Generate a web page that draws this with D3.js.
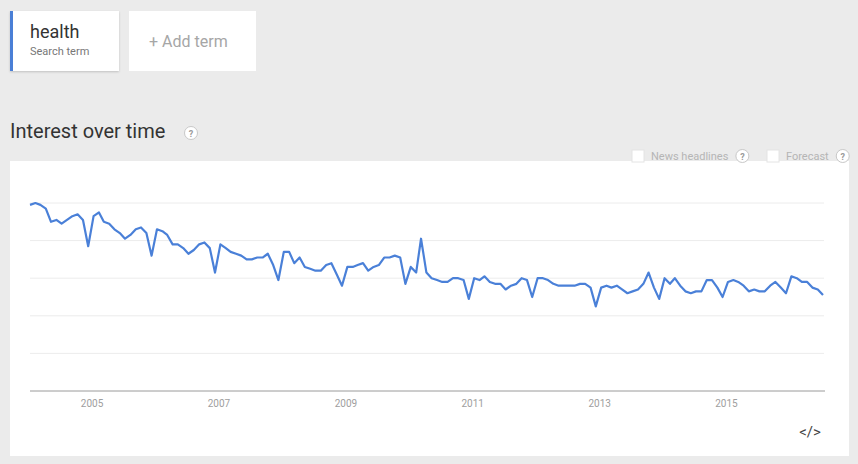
<!DOCTYPE html>
<html>
<head>
<meta charset="utf-8">
<script src="https://cdn.jsdelivr.net/npm/d3@7"></script>
<style>
  body { margin: 0; background: #ebebeb; font-family: Roboto, "Noto Sans", Arial, sans-serif; }
  svg { display: block; }
</style>
</head>
<body>
<div id="chart"></div>
<script>
// search interest for "health", monthly, Jan 2004 - Jul 2016
const values = [
    99, 100, 99, 97, 90, 91, 89, 91, 93, 94, 91, 77,
    93, 95, 90, 89, 86, 84, 81, 83, 86, 87, 84, 72,
    86, 85, 83, 78, 78, 76, 73, 75, 78, 79, 76, 63,
    78, 76, 74, 73, 72, 70, 70, 71, 71, 73, 67, 59,
    74, 74, 68, 71, 66, 65, 64, 64, 67, 68, 62, 56,
    66, 66, 67, 68, 64, 66, 67, 71, 71, 72, 71, 57,
    66, 63, 81, 63, 60, 59, 58, 58, 60, 60, 59, 49,
    60, 59, 61, 58, 57, 57, 54, 56, 57, 60, 59, 50,
    60, 60, 59, 57, 56, 56, 56, 56, 57, 57, 55, 45,
    55, 56, 55, 56, 54, 52, 53, 54, 57, 63, 55, 49,
    60, 57, 60, 56, 53, 52, 53, 53, 59, 59, 55, 50,
    58, 59, 58, 56, 53, 54, 53, 53, 56, 58, 55, 52,
    61, 60, 58, 58, 55, 54, 51
];
const months = d3.timeMonth.range(new Date(2004, 0, 1), new Date(2016, 7, 1));
const yearTicks = ["2005", "2007", "2009", "2011", "2013", "2015"];
const yTicks = [0, 20, 40, 60, 80, 100];
const searchTerm = "health";
const legendItems = ["News headlines", "Forecast"];

const data = months.map((m, i) => ({ date: m, value: values[i] }));

const width = 858;
const height = 464;

const svg = d3.select("#chart")
    .append("svg")
    .attr("width", width)
    .attr("height", height);

// soft card shadow
const defs = svg.append("defs");
const shadow = defs.append("filter").attr("id", "shadow")
    .attr("x", "-10%").attr("y", "-10%").attr("width", "120%").attr("height", "130%");
shadow.append("feDropShadow")
    .attr("dx", 0).attr("dy", 1).attr("stdDeviation", 1)
    .attr("flood-color", "#000").attr("flood-opacity", 0.18);

// term cards
const card = svg.append("g");
card.append("rect")
    .attr("x", 10).attr("y", 11).attr("width", 109).attr("height", 60)
    .attr("fill", "#fff").attr("filter", "url(#shadow)");
card.append("rect")
    .attr("x", 10).attr("y", 11).attr("width", 3).attr("height", 60)
    .attr("fill", "#4a7fd6");
card.append("text")
    .attr("x", 30).attr("y", 38)
    .attr("fill", "#333").style("font-size", "18px")
    .text(searchTerm);
card.append("text")
    .attr("x", 30).attr("y", 55)
    .attr("fill", "#777").style("font-size", "11px")
    .text("Search term");

card.append("rect")
    .attr("x", 129).attr("y", 11).attr("width", 127).attr("height", 60)
    .attr("fill", "#fff");
card.append("text")
    .attr("x", 149).attr("y", 47)
    .attr("fill", "#a6a6a6").style("font-size", "16px")
    .text("+ Add term");

// help icon
function helpIcon(cx, cy) {
    const h = svg.append("g");
    h.append("circle")
        .attr("cx", cx).attr("cy", cy).attr("r", 6.5)
        .attr("fill", "#fff").attr("stroke", "#c8c8c8").attr("stroke-width", 1);
    h.append("text")
        .attr("x", cx).attr("y", cy + 3.5)
        .attr("text-anchor", "middle")
        .attr("fill", "#9a9a9a").style("font-size", "9px").style("font-weight", "bold")
        .text("?");
}

// title
svg.append("text")
    .attr("x", 10).attr("y", 138)
    .attr("fill", "#333").style("font-size", "20px")
    .text("Interest over time");
helpIcon(191, 133);

// chart panel
svg.append("rect")
    .attr("x", 10).attr("y", 161).attr("width", 839).attr("height", 295)
    .attr("fill", "#fff");

// legend checkboxes
const legendX = [632, 767];
legendItems.forEach((name, i) => {
    svg.append("rect")
        .attr("x", legendX[i]).attr("y", 150).attr("width", 12).attr("height", 12)
        .attr("fill", "#fff").attr("stroke", "#e4e4e4");
    const t = svg.append("text")
        .attr("x", legendX[i] + 19).attr("y", 160)
        .attr("fill", "#b5b5b5").style("font-size", "11px")
        .text(name);
    const w = t.node().getComputedTextLength();
    helpIcon(legendX[i] + 19 + w + 14, 156);
});

// scales
const x = d3.scaleTime()
    .domain(d3.extent(months))
    .range([30, 823]);

const y = d3.scaleLinear()
    .domain([0, 100])
    .range([391, 203]);

// gridlines
svg.append("g")
    .selectAll("line")
    .data(yTicks.slice(1))
    .enter()
    .append("line")
    .attr("x1", 30).attr("x2", 824)
    .attr("y1", d => y(d)).attr("y2", d => y(d))
    .attr("stroke", "#ececec").attr("stroke-width", 1);

// x axis
const xAxis = d3.axisBottom(x)
    .tickValues(yearTicks.map(t => new Date(+t, 0, 1)))
    .tickFormat(d3.timeFormat("%Y"))
    .tickSize(0)
    .tickPadding(9);

const gx = svg.append("g")
    .attr("transform", `translate(0,${y(0)})`)
    .call(xAxis);
gx.select(".domain").remove();
gx.selectAll("text")
    .attr("fill", "#9e9e9e")
    .attr("dx", -2)
    .style("font-size", "10px")
    .style("font-family", "Roboto, Arial, sans-serif");

svg.append("line")
    .attr("x1", 30).attr("x2", 825)
    .attr("y1", y(0)).attr("y2", y(0))
    .attr("stroke", "#9a9a9a").attr("stroke-width", 1);

// interest line
const line = d3.line()
    .x(d => x(d.date))
    .y(d => y(d.value));

svg.append("path")
    .datum(data)
    .attr("fill", "none")
    .attr("stroke", "#4a80d8")
    .attr("stroke-width", 2.2)
    .attr("stroke-linejoin", "round")
    .attr("d", line);

// embed icon
svg.append("text")
    .attr("x", 810).attr("y", 437)
    .attr("text-anchor", "middle")
    .attr("fill", "#444").style("font-size", "15px")
    .text("</>");
</script>
</body>
</html>
